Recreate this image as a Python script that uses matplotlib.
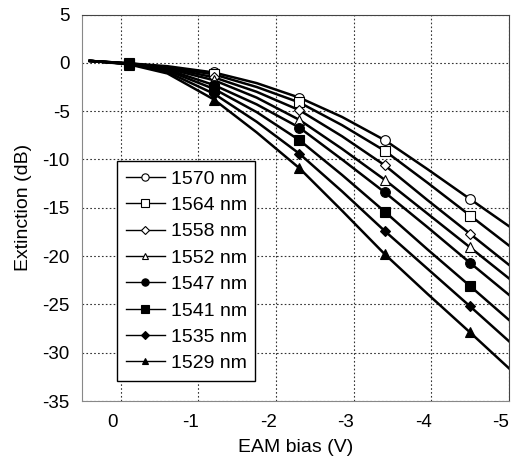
import numpy as np
import matplotlib.pyplot as plt
from matplotlib.transforms import ScaledTranslation

# Длины волн, нм
wavelengths = ['1570 nm', '1564 nm', '1558 nm', '1552 nm',
               '1547 nm', '1541 nm', '1535 nm', '1529 nm']

# Измеренные точки: напряжение смещения EAM (В) и экстинкция (дБ)
bias_meas = [-0.1, -1.2, -2.3, -3.4, -4.5]
ext_1570 = [-0.05, -1.0, -3.6, -8.0, -14.1]
ext_1564 = [-0.05, -1.2, -4.1, -9.1, -15.8]
ext_1558 = [-0.1, -1.5, -4.9, -10.6, -17.7]
ext_1552 = [-0.1, -1.8, -5.9, -12.1, -19.1]
ext_1547 = [-0.1, -2.3, -6.7, -13.4, -20.7]
ext_1541 = [-0.15, -2.7, -8.0, -15.4, -23.1]
ext_1535 = [-0.15, -3.2, -9.4, -17.4, -25.2]
ext_1529 = [-0.2, -3.8, -10.9, -19.8, -27.9]

# Аппроксимирующие кривые
bias_fit = [0.4, -0.1, -0.6, -1.2, -1.75, -2.3, -2.85, -3.4, -3.95, -4.5, -5.0]
fit_1570 = [0.2, -0.05, -0.35, -1.0, -2.1, -3.6, -5.6, -8.0, -11.0, -14.1, -16.9]
fit_1564 = [0.2, -0.05, -0.45, -1.2, -2.5, -4.1, -6.45, -9.1, -12.4, -15.8, -18.9]
fit_1558 = [0.2, -0.05, -0.5, -1.5, -3.0, -4.9, -7.6, -10.6, -14.2, -17.7, -20.9]
fit_1552 = [0.2, -0.1, -0.6, -1.8, -3.6, -5.9, -8.9, -12.1, -15.6, -19.1, -22.3]
fit_1547 = [0.2, -0.1, -0.7, -2.3, -4.3, -6.7, -10.0, -13.4, -17.0, -20.7, -24.0]
fit_1541 = [0.2, -0.1, -0.8, -2.7, -5.1, -8.0, -11.6, -15.4, -19.3, -23.1, -26.6]
fit_1535 = [0.2, -0.1, -0.95, -3.2, -6.1, -9.4, -13.3, -17.4, -21.3, -25.2, -28.8]
fit_1529 = [0.2, -0.15, -1.1, -3.8, -7.2, -10.9, -15.3, -19.8, -23.9, -27.9, -31.6]

meas = [ext_1570, ext_1564, ext_1558, ext_1552, ext_1547, ext_1541, ext_1535, ext_1529]
fits = [fit_1570, fit_1564, fit_1558, fit_1552, fit_1547, fit_1541, fit_1535, fit_1529]
markers = ['o', 's', 'D', '^', 'o', 's', 'D', '^']
fills = ['white'] * 4 + ['black'] * 4
sizes = [7, 7, 5, 6.5, 7, 7.5, 5, 6.5]

plt.rcParams['font.family'] = ['Liberation Sans', 'DejaVu Sans']
plt.rcParams['axes.unicode_minus'] = False

fig = plt.figure(figsize=(5.13, 4.68), dpi=100)
ax = fig.add_axes([0.160, 0.143, 0.832, 0.826])

for i in range(len(wavelengths)):
    ax.plot(bias_fit, fits[i], color='black', lw=1.8, zorder=2)
    ax.plot(bias_meas, meas[i], linestyle='none', marker=markers[i],
            ms=sizes[i], mfc=fills[i], mec='black', mew=0.8, zorder=3)
    # элемент легенды: линия с маркером
    ax.plot([], [], color='black', lw=1.0, marker=markers[i],
            ms=sizes[i] * 0.75, mfc=fills[i], mec='black', mew=0.8,
            label=wavelengths[i])

ax.set_xlim(0.5, -5)
ax.set_ylim(-35, 5)
ax.set_xticks(np.arange(0, -6, -1))
ax.set_yticks(np.arange(-35, 6, 5))
ax.set_xticklabels(['0', '-1', '-2', '-3', '-4', '-5'])
ax.grid(True, color='#333333', linestyle=(0, (1.5, 2)), lw=0.8)
ax.tick_params(length=0, labelsize=13.5, pad=9)

# подписи оси X немного сдвинуты влево
offset = ScaledTranslation(-8 / 100, 0, fig.dpi_scale_trans)
for lbl in ax.get_xticklabels():
    lbl.set_transform(lbl.get_transform() + offset)

for side in ['left', 'bottom']:
    ax.spines[side].set_color('#888888')
for side in ['top', 'right']:
    ax.spines[side].set_color('#444444')

ax.set_xlabel('EAM bias (V)', fontsize=14, labelpad=6)
ax.set_ylabel('Extinction (dB)', fontsize=14, labelpad=7)

leg = ax.legend(loc='lower left', bbox_to_anchor=(0.082, 0.052), fontsize=14,
                frameon=True, fancybox=False, framealpha=1, edgecolor='black',
                handlelength=2.0, labelspacing=0.45, handletextpad=0.3,
                borderpad=0.45, borderaxespad=0)
leg.get_frame().set_linewidth(1.0)

fig.savefig('out.png', dpi=100)
